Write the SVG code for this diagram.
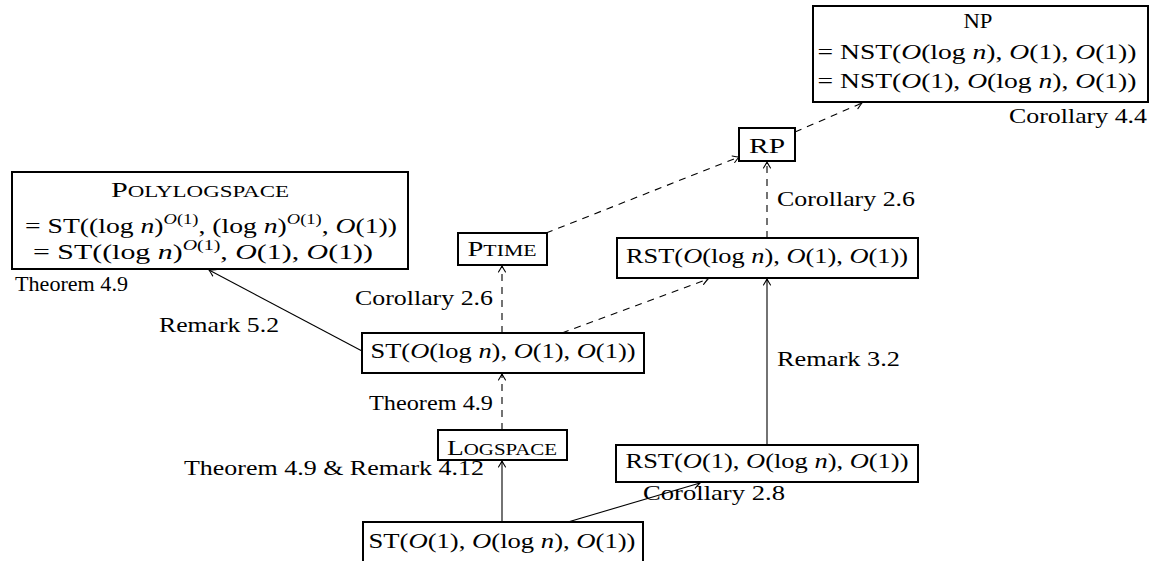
<svg xmlns="http://www.w3.org/2000/svg" width="1151" height="561" viewBox="0 0 1151 561">
<style>
text{font-family:"Liberation Serif","DejaVu Serif",serif;font-size:21px;fill:#000}
.m{text-anchor:middle}
.i{font-style:italic}
.sc{font-size:16px}
.sup{font-size:14px}
.box{fill:#fff;stroke:#000;stroke-width:2}
.c{fill:none;stroke:#000;stroke-width:1.1}
.d{stroke-dasharray:7 6}
</style>
<defs>
<marker id="ah" viewBox="-8 -5 10 10" markerWidth="10" markerHeight="10" refX="0" refY="0" orient="auto" markerUnits="userSpaceOnUse">
<path d="M-6,-3.5 Q-2,-1 0,0 Q-2,1 -6,3.5" fill="none" stroke="#000" stroke-width="1.1" stroke-linecap="round"/>
</marker>
</defs>
<g id="connectors">
<path class="c" d="M362,351 L209,270" marker-end="url(#ah)"/>
<path class="c d" d="M502,333 L502,266" marker-end="url(#ah)"/>
<path class="c d" d="M562,333 L708,279" marker-end="url(#ah)"/>
<path class="c d" d="M546,233 L739,157" marker-end="url(#ah)"/>
<path class="c d" d="M795,132 L862,103" marker-end="url(#ah)"/>
<path class="c d" d="M767,238 L767,162" marker-end="url(#ah)"/>
<path class="c" d="M767,445 L767,279" marker-end="url(#ah)"/>
<path class="c d" d="M502,430 L502,374" marker-end="url(#ah)"/>
<path class="c" d="M502,522 L502,461" marker-end="url(#ah)"/>
<path class="c" d="M568,522 L700,483" marker-end="url(#ah)"/>
</g>
<g id="np">
<rect class="box" x="813" y="6" width="335" height="96"/>
<text class="m" x="978" y="28" textLength="29" lengthAdjust="spacingAndGlyphs">NP</text>
<text class="m" x="977" y="59" textLength="319" lengthAdjust="spacingAndGlyphs">= NST(<tspan class="i">O</tspan>(log <tspan class="i">n</tspan>), <tspan class="i">O</tspan>(1), <tspan class="i">O</tspan>(1))</text>
<text class="m" x="977" y="88" textLength="319" lengthAdjust="spacingAndGlyphs">= NST(<tspan class="i">O</tspan>(1), <tspan class="i">O</tspan>(log <tspan class="i">n</tspan>), <tspan class="i">O</tspan>(1))</text>
</g>
<text id="l-cor44" x="1009" y="123" textLength="138" lengthAdjust="spacingAndGlyphs">Corollary 4.4</text>
<g id="rp">
<rect class="box" x="739" y="128" width="56" height="33"/>
<text class="m" x="767" y="153" textLength="36" lengthAdjust="spacingAndGlyphs">RP</text>
</g>
<text id="l-cor26r" x="777" y="206" textLength="138" lengthAdjust="spacingAndGlyphs">Corollary 2.6</text>
<g id="rstlog">
<rect class="box" x="617" y="238" width="301" height="40"/>
<text class="m" x="767" y="263" textLength="282" lengthAdjust="spacingAndGlyphs">RST(<tspan class="i">O</tspan>(log <tspan class="i">n</tspan>), <tspan class="i">O</tspan>(1), <tspan class="i">O</tspan>(1))</text>
</g>
<g id="polylog">
<rect class="box" x="12" y="172" width="396" height="97"/>
<text class="m" x="200" y="197" textLength="178" lengthAdjust="spacingAndGlyphs">P<tspan class="sc">OLYLOGSPACE</tspan></text>
<text class="m" x="211" y="233" textLength="372" lengthAdjust="spacingAndGlyphs">= ST((log <tspan class="i">n</tspan>)<tspan class="sup i" dy="-9">O</tspan><tspan class="sup">(1)</tspan><tspan dy="9">, (log </tspan><tspan class="i">n</tspan>)<tspan class="sup i" dy="-9">O</tspan><tspan class="sup">(1)</tspan><tspan dy="9">, </tspan><tspan class="i">O</tspan>(1))</text>
<text class="m" x="203" y="259" textLength="340" lengthAdjust="spacingAndGlyphs">=  ST((log <tspan class="i">n</tspan>)<tspan class="sup i" dy="-9">O</tspan><tspan class="sup">(1)</tspan><tspan dy="9">, </tspan><tspan class="i">O</tspan>(1), <tspan class="i">O</tspan>(1))</text>
</g>
<text id="l-thm49a" x="15" y="291" textLength="113" lengthAdjust="spacingAndGlyphs">Theorem 4.9</text>
<g id="ptime">
<rect class="box" x="458" y="233" width="89" height="32"/>
<text class="m" x="502" y="256" textLength="69" lengthAdjust="spacingAndGlyphs">P<tspan class="sc">TIME</tspan></text>
</g>
<text id="l-cor26l" x="355" y="305" textLength="138" lengthAdjust="spacingAndGlyphs">Corollary 2.6</text>
<text id="l-rem52" x="159" y="332" textLength="120" lengthAdjust="spacingAndGlyphs">Remark 5.2</text>
<g id="stlog">
<rect class="box" x="362" y="333" width="282" height="40"/>
<text class="m" x="503" y="358" textLength="265" lengthAdjust="spacingAndGlyphs">ST(<tspan class="i">O</tspan>(log <tspan class="i">n</tspan>), <tspan class="i">O</tspan>(1), <tspan class="i">O</tspan>(1))</text>
</g>
<text id="l-rem32" x="777" y="366" textLength="123" lengthAdjust="spacingAndGlyphs">Remark 3.2</text>
<text id="l-thm49b" x="369" y="410" textLength="124" lengthAdjust="spacingAndGlyphs">Theorem 4.9</text>
<g id="logspace">
<rect class="box" x="438" y="430" width="129" height="30"/>
<text class="m" x="502" y="455" textLength="110" lengthAdjust="spacingAndGlyphs">L<tspan class="sc">OGSPACE</tspan></text>
</g>
<g id="rst1">
<rect class="box" x="616" y="445" width="302" height="37"/>
<text class="m" x="767" y="468" textLength="283" lengthAdjust="spacingAndGlyphs">RST(<tspan class="i">O</tspan>(1), <tspan class="i">O</tspan>(log <tspan class="i">n</tspan>), <tspan class="i">O</tspan>(1))</text>
</g>
<text id="l-thm49rem412" x="184" y="475" textLength="300" lengthAdjust="spacingAndGlyphs">Theorem 4.9 &amp; Remark 4.12</text>
<text id="l-cor28" x="643" y="500" textLength="142" lengthAdjust="spacingAndGlyphs">Corollary 2.8</text>
<g id="st1">
<rect class="box" x="363" y="522" width="280" height="42"/>
<text class="m" x="502" y="548" textLength="267" lengthAdjust="spacingAndGlyphs">ST(<tspan class="i">O</tspan>(1), <tspan class="i">O</tspan>(log <tspan class="i">n</tspan>), <tspan class="i">O</tspan>(1))</text>
</g>
</svg>
